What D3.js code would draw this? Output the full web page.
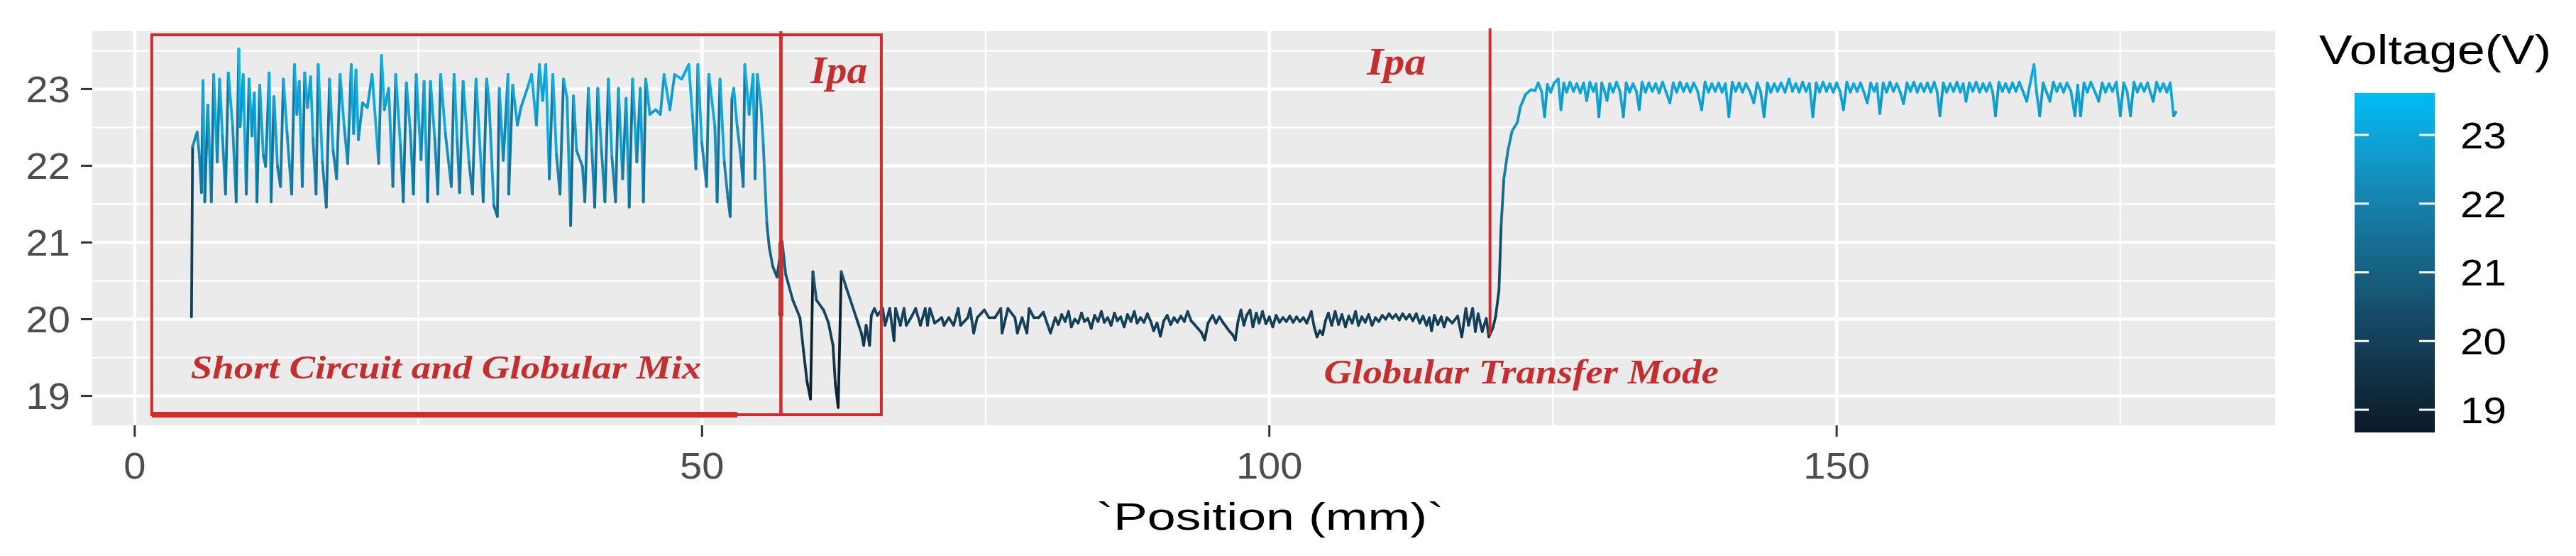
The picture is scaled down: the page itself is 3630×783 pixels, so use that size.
<!DOCTYPE html>
<html><head><meta charset="utf-8">
<script src="https://cdn.jsdelivr.net/npm/d3@7/dist/d3.min.js"></script>
<style>body{margin:0;background:#fff}svg{display:block}</style>
</head><body>
<svg id="chart" width="3630" height="783"></svg>
<script>
// ---------------- data ----------------
// Short circuit and globular mix zone
const pos1 = [
 5.0, 5.1, 5.5, 5.71, 5.88, 6.02, 6.17, 6.44, 6.75, 6.96,
 7.27, 7.48, 7.73, 8.0, 8.25, 8.63, 8.94, 9.17, 9.29, 9.56,
 9.83, 10.08, 10.33, 10.54, 10.77, 11.02, 11.33, 11.54, 11.85, 12.02,
 12.27, 12.58, 12.85, 13.10, 13.42, 13.83, 14.08, 14.29, 14.50, 14.77,
 14.98, 15.23, 15.50, 15.71, 15.98, 16.17, 16.54, 16.88, 17.17, 17.48,
 17.79, 18.10, 18.46, 18.77, 19.08, 19.29, 19.50, 19.71, 20.08, 20.50,
 20.92, 21.50, 21.75, 22.00, 22.38, 22.75, 23.00, 23.42, 23.67, 23.94,
 24.29, 24.56, 24.81, 25.23, 25.50, 25.81, 26.06, 26.44, 26.71, 26.96,
 27.38, 27.90, 28.15, 28.42, 28.63, 28.94, 29.46, 29.77, 30.08, 30.71,
 31.02, 31.23, 31.65, 31.96, 32.13, 32.48, 32.90, 32.96, 33.31, 33.73,
 34.04, 34.67, 34.98, 35.40, 35.67, 35.95, 36.23, 36.54, 36.85, 37.17,
 37.48, 37.79, 38.10, 38.42, 38.67, 38.94, 39.46, 39.67, 39.98, 40.29,
 40.54, 40.81, 41.13, 41.44, 41.75, 42.06, 42.38, 42.63, 43.00, 43.31,
 43.58, 43.88, 44.25, 44.56, 44.83, 45.04, 45.40, 45.92, 46.33, 46.65,
 47.17, 47.58, 48.21, 48.83, 49.15, 49.46, 49.63, 49.98, 50.40, 50.60,
 51.13, 51.33, 51.58, 51.96, 52.27, 52.48, 52.63, 52.79, 53.10, 53.42,
 53.63, 53.77, 54.15, 54.50, 54.67, 54.88, 55.19, 55.40, 55.71, 55.92,
 56.23, 56.60, 57.06, 57.38, 58.00, 58.63, 58.94, 59.25, 59.56, 59.77,
 60.08, 60.71, 61.13, 61.54, 61.75, 62.00, 62.27, 62.69, 63.21, 63.73,
 64.04, 64.25, 64.46, 64.77, 64.92, 65.19, 65.46
];
const volt1 = [
 20.03, 22.25, 22.44, 22.11, 21.65, 23.11, 21.53, 22.79, 21.53, 23.19,
 22.05, 23.13, 22.39, 21.63, 23.21, 22.51, 21.53, 23.52, 22.51, 23.19,
 21.63, 23.13, 22.39, 22.95, 21.53, 23.05, 22.14, 21.99, 23.21, 21.53,
 22.90, 21.99, 21.73, 23.13, 22.44, 21.63, 23.32, 22.67, 23.10, 21.73,
 23.21, 22.76, 23.16, 22.36, 21.63, 23.32, 22.05, 21.46, 23.13, 22.20,
 21.83, 23.19, 22.51, 22.03, 23.32, 22.42, 23.25, 22.34, 22.82, 22.76,
 23.19, 22.03, 23.44, 22.73, 23.01, 21.73, 23.19, 22.27, 21.53, 23.08,
 22.45, 21.63, 23.19, 22.08, 23.10, 21.53, 23.10, 22.36, 21.63, 23.19,
 22.42, 21.73, 23.19, 22.33, 21.65, 23.10, 22.05, 21.63, 23.13, 21.53,
 23.13, 22.82, 21.48, 21.34, 23.01, 22.07, 23.19, 21.63, 23.05, 22.53,
 22.76, 23.04, 23.19, 22.53, 23.32, 22.85, 23.32, 21.83, 23.19, 22.14,
 21.63, 23.13, 22.88, 21.22, 22.91, 22.20, 21.99, 21.53, 23.01, 22.22,
 21.46, 23.01, 22.22, 21.53, 23.13, 22.11, 21.53, 23.01, 21.83, 22.88,
 21.46, 23.13, 22.05, 23.01, 21.53, 23.13, 22.67, 22.73, 22.67, 23.19,
 22.73, 23.19, 23.13, 23.32, 22.67, 21.96, 23.32, 22.30, 21.73, 23.19,
 22.51, 21.53, 23.13, 22.05, 21.59, 21.34, 22.88, 23.01, 22.51, 22.11,
 21.73, 23.32, 22.67, 23.19, 21.83, 23.19, 22.79, 22.27, 21.25, 20.94,
 20.69, 20.55, 21.01, 20.58, 20.25, 20.02, 19.59, 19.19, 18.96, 20.62,
 20.25, 20.12, 19.96, 19.66, 19.16, 18.85, 20.62, 20.42, 20.19, 19.96,
 19.82, 19.66, 19.92, 19.66, 20.05, 20.14, 20.05
];
// Globular transfer zone
const pos2 = [
 65.92, 66.13, 66.54, 66.92, 67.06, 67.48, 67.80, 68.00, 68.42, 68.83,
 69.25, 69.67, 69.88, 70.08, 70.50, 71.13, 71.33, 71.75, 72.17, 72.58,
 72.79, 73.42, 73.63, 73.94, 74.25, 74.88, 75.29, 75.81, 76.33, 76.44,
 76.96, 77.58, 77.79, 78.21, 78.63, 78.83, 79.25, 79.67, 80.08, 80.71,
 81.13, 81.40, 81.70, 82.00, 82.30, 82.55, 82.85, 83.15, 83.45, 83.70,
 84.00, 84.30, 84.60, 84.90, 85.20, 85.45, 85.75, 86.05, 86.35, 86.60,
 86.90, 87.20, 87.50, 87.80, 88.10, 88.35, 88.65, 88.95, 89.25, 89.55,
 89.80, 90.10, 90.40, 90.70, 91.00, 91.30, 91.60, 91.90, 92.20, 92.50,
 92.80, 93.10, 93.40, 93.70, 94.00, 94.30, 94.60, 95.00, 95.30, 95.60,
 95.90, 96.20, 96.50, 96.75, 97.00, 97.25, 97.50, 97.75, 98.00, 98.30,
 98.55, 98.85, 99.10, 99.40, 99.70, 100.00, 100.30, 100.60, 100.90, 101.20,
 101.50, 101.80, 102.10, 102.40, 102.70, 103.00, 103.30, 103.70, 103.95, 104.20,
 104.45, 104.70, 104.95, 105.20, 105.50, 105.80, 106.10, 106.40, 106.70, 107.00,
 107.30, 107.60, 107.85, 108.15, 108.45, 108.75, 109.05, 109.35, 109.65, 109.95,
 110.25, 110.55, 110.85, 111.15, 111.45, 111.75, 112.05, 112.35, 112.65, 112.95,
 113.25, 113.55, 113.85, 114.10, 114.30, 114.55, 114.85, 115.15, 115.40, 115.65,
 116.13, 116.60, 116.96, 117.32, 117.56, 117.92, 118.16, 118.40, 118.76, 119.12,
 119.35, 119.71, 119.95
];
const volt2 = [
 20.14, 19.92, 20.14, 19.72, 20.14, 19.92, 20.14, 19.92, 20.02, 20.14,
 19.92, 20.14, 19.92, 20.14, 19.95, 20.02, 19.92, 20.02, 19.92, 20.14,
 19.92, 20.02, 20.14, 19.82, 20.02, 20.12, 20.02, 20.02, 20.14, 19.82,
 20.14, 20.02, 19.82, 20.02, 19.82, 20.14, 20.02, 20.02, 20.09, 19.82,
 20.02, 19.93, 20.06, 19.97, 20.10, 19.90, 20.00, 19.95, 20.08, 19.97,
 20.01, 19.88, 20.05, 19.97, 20.10, 19.96, 20.02, 19.92, 20.08, 19.98,
 20.03, 19.90, 20.06, 19.97, 20.10, 19.95, 20.02, 19.96, 20.07, 19.97,
 19.85, 19.95, 19.78, 19.98, 20.05, 19.93, 20.02, 19.96, 20.04, 19.97,
 20.10, 19.98, 19.93, 19.88, 19.83, 19.73, 19.95, 20.05, 19.95, 20.03,
 19.96, 19.90, 19.84, 19.80, 19.73, 19.98, 20.12, 19.92, 20.05, 20.12,
 19.90, 20.08, 19.95, 20.10, 19.94, 20.03, 19.90, 20.05, 19.96, 20.02,
 19.97, 20.04, 19.96, 20.03, 19.97, 20.02, 19.95, 20.10, 19.90, 19.77,
 19.85, 19.80, 19.98, 20.08, 19.92, 20.10, 19.93, 20.06, 19.90, 20.04,
 19.95, 20.10, 19.92, 20.03, 19.96, 20.06, 19.92, 20.02, 19.97, 20.05,
 20.00, 20.07, 20.01, 20.06, 19.99, 20.07, 20.00, 20.06, 19.98, 20.07,
 19.95, 20.04, 19.92, 20.02, 19.85, 20.05, 19.93, 20.03, 19.90, 20.02,
 19.95, 20.04, 19.77, 20.14, 19.92, 20.14, 19.84, 20.07, 19.84, 20.01,
 19.77, 19.89, 20.04
];
// Rise and the last zone
const pos3 = [
 120.24, 120.43, 120.67, 121.03, 121.39, 121.87, 122.11, 122.58, 123.06, 123.42,
 123.70, 124.00, 124.26, 124.50, 124.80, 125.10, 125.46, 125.70, 125.95, 126.20,
 126.50, 126.80, 127.10, 127.40, 127.70, 127.97, 128.25, 128.55, 128.80, 129.04,
 129.30, 129.55, 129.76, 130.00, 130.30, 130.60, 130.90, 131.20, 131.45, 131.75,
 132.05, 132.35, 132.60, 132.85, 133.15, 133.45, 133.75, 134.05, 134.35, 134.65,
 134.95, 135.30, 135.60, 135.90, 136.20, 136.50, 136.80, 137.10, 137.40, 137.75,
 138.10, 138.40, 138.70, 139.00, 139.30, 139.60, 139.90, 140.20, 140.50, 140.80,
 141.10, 141.40, 141.70, 142.00, 142.35, 142.70, 143.00, 143.30, 143.60, 143.90,
 144.20, 144.50, 144.80, 145.10, 145.45, 145.80, 146.10, 146.40, 146.70, 147.00,
 147.30, 147.60, 147.90, 148.20, 148.50, 148.80, 149.10, 149.40, 149.70, 150.00,
 150.30, 150.60, 150.90, 151.20, 151.50, 151.80, 152.10, 152.40, 152.70, 153.00,
 153.30, 153.55, 153.80, 154.10, 154.40, 154.70, 155.00, 155.30, 155.60, 155.90,
 156.20, 156.50, 156.80, 157.10, 157.40, 157.70, 158.00, 158.30, 158.60, 158.85,
 159.10, 159.40, 159.70, 160.00, 160.30, 160.60, 160.90, 161.15, 161.40, 161.70,
 162.00, 162.30, 162.60, 162.90, 163.20, 163.50, 163.75, 164.00, 164.30, 164.60,
 164.90, 165.20, 165.50, 165.80, 166.10, 166.45, 166.75, 167.05, 167.40, 167.60,
 167.90, 168.20, 168.50, 168.80, 169.10, 169.40, 169.70, 170.00, 170.30, 170.65,
 171.00, 171.25, 171.50, 171.80, 172.10, 172.40, 172.75, 173.10, 173.40, 173.70,
 174.00, 174.30, 174.65, 175.00, 175.30, 175.60, 175.90, 176.20, 176.50, 176.80,
 177.10, 177.40, 177.65, 177.90, 178.20, 178.50, 178.80, 179.10, 179.40, 179.70,
 179.90
];
const volt3 = [
 20.38, 21.22, 21.83, 22.20, 22.45, 22.57, 22.76, 22.93, 22.99, 22.98,
 23.08, 22.97, 22.64, 23.06, 22.96, 23.08, 23.13, 22.73, 23.08, 22.96,
 23.09, 22.97, 23.07, 22.95, 23.08, 22.85, 23.09, 22.97, 23.07, 22.64,
 23.08, 22.97, 22.85, 23.07, 22.96, 23.09, 22.97, 22.64, 23.08, 22.96,
 23.07, 22.97, 22.73, 23.09, 22.96, 23.08, 22.97, 23.07, 22.95, 23.09,
 22.97, 22.82, 23.08, 22.96, 23.09, 22.97, 23.07, 22.96, 23.08, 22.97,
 22.73, 23.09, 22.96, 23.07, 22.97, 23.08, 22.96, 23.07, 22.64, 23.09,
 22.97, 23.08, 22.96, 23.07, 22.97, 22.82, 23.08, 22.97, 22.64, 23.08,
 22.96, 23.07, 22.97, 23.08, 22.96, 23.13, 22.97, 23.07, 22.96, 23.09,
 22.97, 23.07, 22.64, 23.08, 22.96, 23.09, 22.97, 23.07, 22.96, 23.08,
 22.97, 22.73, 23.09, 22.96, 23.07, 22.97, 23.08, 22.96, 22.82, 23.08,
 22.97, 23.07, 22.68, 23.08, 22.96, 23.09, 22.97, 23.07, 22.96, 22.81,
 23.08, 22.97, 23.09, 22.96, 23.07, 22.97, 23.08, 22.96, 23.09, 22.97,
 22.65, 23.08, 22.96, 23.07, 22.97, 23.09, 22.96, 23.07, 22.84, 23.08,
 22.97, 23.09, 22.96, 23.07, 22.97, 23.08, 22.96, 22.65, 23.09, 22.97,
 23.07, 22.96, 23.08, 22.97, 23.09, 22.96, 22.84, 23.07, 23.32, 22.98,
 22.65, 23.08, 22.96, 22.84, 23.09, 22.97, 23.07, 22.96, 23.08, 22.97,
 22.65, 23.05, 22.65, 23.08, 22.96, 23.09, 22.97, 22.84, 23.08, 22.96,
 23.07, 22.97, 23.09, 22.65, 23.08, 22.97, 22.65, 23.09, 22.96, 23.07,
 22.97, 23.08, 22.96, 22.84, 23.09, 22.97, 23.07, 22.96, 23.08, 22.65,
 22.70
];

const xTicks = [0, 50, 100, 150];
const xMinorTicks = [25, 75, 125, 175];
const yTicks = [19, 20, 21, 22, 23];
const yMinorTicks = [19.5, 20.5, 21.5, 22.5, 23.5];
const legendTicks = [19, 20, 21, 22, 23];
const colourLimits = [18.67, 23.61];

// annotations, in data units (mm, V)
const boxes = [
  {x0: 1.5, x1: 56.95, y0: 18.755, y1: 23.707},
  {x0: 56.95, x1: 65.8, y0: 18.755, y1: 23.707}
];
const markerLines = [
  {x0: 56.95, x1: 56.95, y0: 20.04, y1: 23.753, w: 4},
  {x0: 56.95, x1: 56.95, y0: 20.04, y1: 21.0, w: 7},
  {x0: 119.45, x1: 119.45, y0: 19.79, y1: 23.79, w: 4},
  {x0: 1.5, x1: 53.1, y0: 18.755, y1: 18.755, w: 8}
];
const labels = [
  {text: "Short Circuit and Globular Mix", x0: 4.93, x1: 49.94, y: 19.227, size: 46},
  {text: "Globular Transfer Mode", x0: 104.8, x1: 139.6, y: 19.16, size: 48},
  {text: "Ipa", x0: 59.57, x1: 64.57, y: 23.077, size: 54},
  {text: "Ipa", x0: 108.6, x1: 113.8, y: 23.19, size: 54}
];

// ---------------- drawing ----------------
const position = pos1.concat(pos2, pos3);
const voltage = volt1.concat(volt2, volt3);
const data = position.map((p, i) => ({p, v: voltage[i]}));

const panel = {left: 130, right: 3206, top: 44, bottom: 599};
const svg = d3.select('#chart');
const sans = '"Liberation Sans", Arial, sans-serif';
const serif = '"Liberation Serif", "Times New Roman", serif';

function expand(ext, k = 0.05) { const r = ext[1] - ext[0]; return [ext[0] - k * r, ext[1] + k * r]; }
function stretch(sel, k) {
  sel.each(function () {
    const L = this.getComputedTextLength();
    d3.select(this).attr('textLength', L * k).attr('lengthAdjust', 'spacingAndGlyphs');
  });
}

const x = d3.scaleLinear().domain(expand(d3.extent(position))).range([panel.left, panel.right]);
const y = d3.scaleLinear().domain(expand(d3.extent(voltage))).range([panel.bottom, panel.top]);
const colour = d3.scaleLinear().domain(colourLimits).range(['#0B1A28', '#00BBF5']).interpolate(d3.interpolateLab).clamp(true);

// panel background
svg.append('rect').attr('x', panel.left).attr('y', panel.top)
  .attr('width', panel.right - panel.left).attr('height', panel.bottom - panel.top).attr('fill', '#EBEBEB');

const grid = svg.append('g');
grid.selectAll('.hmin').data(yMinorTicks).join('line')
  .attr('x1', panel.left).attr('x2', panel.right).attr('y1', d => y(d)).attr('y2', d => y(d))
  .attr('stroke', '#fff').attr('stroke-width', 2.5);
grid.selectAll('.vmin').data(xMinorTicks).join('line')
  .attr('y1', panel.top).attr('y2', panel.bottom).attr('x1', d => x(d)).attr('x2', d => x(d))
  .attr('stroke', '#fff').attr('stroke-width', 2.5);
grid.selectAll('.hmaj').data(yTicks).join('line')
  .attr('x1', panel.left).attr('x2', panel.right).attr('y1', d => y(d)).attr('y2', d => y(d))
  .attr('stroke', '#fff').attr('stroke-width', 4.5);
grid.selectAll('.vmaj').data(xTicks).join('line')
  .attr('y1', panel.top).attr('y2', panel.bottom).attr('x1', d => x(d)).attr('x2', d => x(d))
  .attr('stroke', '#fff').attr('stroke-width', 4.5);

// the voltage trace, each segment coloured by its starting value
const segs = d3.pairs(data);
svg.append('g').selectAll('line').data(segs).join('line')
  .attr('x1', d => x(d[0].p)).attr('y1', d => y(d[0].v))
  .attr('x2', d => x(d[1].p)).attr('y2', d => y(d[1].v))
  .attr('stroke', d => colour(d[0].v)).attr('stroke-width', 3.8).attr('stroke-linecap', 'round');

// annotations
const red = '#CF2C2C';
const textRed = '#C42E2E';
const ann = svg.append('g');
ann.selectAll('rect').data(boxes).join('rect')
  .attr('x', d => x(d.x0)).attr('y', d => y(d.y1))
  .attr('width', d => x(d.x1) - x(d.x0)).attr('height', d => y(d.y0) - y(d.y1))
  .attr('fill', 'none').attr('stroke', red).attr('stroke-width', 4);
ann.selectAll('line').data(markerLines).join('line')
  .attr('x1', d => x(d.x0)).attr('x2', d => x(d.x1)).attr('y1', d => y(d.y1)).attr('y2', d => y(d.y0))
  .attr('stroke', red).attr('stroke-width', d => d.w);
ann.selectAll('text').data(labels).join('text')
  .attr('x', d => x(d.x0)).attr('y', d => y(d.y))
  .attr('font-family', serif).attr('font-style', 'italic').attr('font-weight', 'bold')
  .attr('font-size', d => d.size).attr('fill', textRed)
  .attr('textLength', d => x(d.x1) - x(d.x0)).attr('lengthAdjust', 'spacingAndGlyphs')
  .text(d => d.text);

// axes
const tickCol = '#333333', labCol = '#4D4D4D';
const ax = svg.append('g');
ax.selectAll('.yt').data(yTicks).join('line')
  .attr('x1', panel.left - 16).attr('x2', panel.left).attr('y1', d => y(d)).attr('y2', d => y(d))
  .attr('stroke', tickCol).attr('stroke-width', 3);
ax.selectAll('.yl').data(yTicks).join('text')
  .attr('x', panel.left - 31).attr('y', d => y(d)).attr('dy', '0.36em')
  .attr('text-anchor', 'end').attr('font-family', sans).attr('font-size', 51).attr('fill', labCol)
  .text(d => d).call(stretch, 1.1);
ax.selectAll('.xt').data(xTicks).join('line')
  .attr('x1', d => x(d)).attr('x2', d => x(d)).attr('y1', panel.bottom).attr('y2', panel.bottom + 16)
  .attr('stroke', tickCol).attr('stroke-width', 3);
ax.selectAll('.xl').data(xTicks).join('text')
  .attr('x', d => x(d)).attr('y', 674)
  .attr('text-anchor', 'middle').attr('font-family', sans).attr('font-size', 51).attr('fill', labCol)
  .text(d => d).call(stretch, 1.1);
ax.append('text').attr('x', 1790).attr('y', 746).attr('text-anchor', 'middle')
  .attr('font-family', sans).attr('font-size', 54).attr('fill', '#000')
  .text('`Position (mm)`').attr('textLength', 490).attr('lengthAdjust', 'spacingAndGlyphs');

// legend (colour bar)
const bar = {x: 3318, w: 113, top: 131, bottom: 609};
const ly = d3.scaleLinear().domain(colourLimits).range([bar.bottom, bar.top]);
const defs = svg.append('defs');
const grad = defs.append('linearGradient').attr('id', 'cb').attr('x1', 0).attr('y1', 1).attr('x2', 0).attr('y2', 0);
grad.selectAll('stop').data(d3.range(0, 1.0001, 0.02)).join('stop')
  .attr('offset', d => d).attr('stop-color', d => colour(colourLimits[0] + d * (colourLimits[1] - colourLimits[0])));
const lg = svg.append('g');
lg.append('text').attr('x', 3268).attr('y', 90).attr('font-family', sans).attr('font-size', 58).attr('fill', '#000')
  .text('Voltage(V)').attr('textLength', 327).attr('lengthAdjust', 'spacingAndGlyphs');
lg.append('rect').attr('x', bar.x).attr('y', bar.top).attr('width', bar.w).attr('height', bar.bottom - bar.top)
  .attr('fill', 'url(#cb)');
lg.selectAll('.lt1').data(legendTicks).join('line')
  .attr('x1', bar.x).attr('x2', bar.x + 20).attr('y1', d => ly(d)).attr('y2', d => ly(d))
  .attr('stroke', '#fff').attr('stroke-width', 3);
lg.selectAll('.lt2').data(legendTicks).join('line')
  .attr('x1', bar.x + bar.w - 22).attr('x2', bar.x + bar.w).attr('y1', d => ly(d)).attr('y2', d => ly(d))
  .attr('stroke', '#fff').attr('stroke-width', 3);
lg.selectAll('.ll').data(legendTicks).join('text')
  .attr('x', 3467).attr('y', d => ly(d)).attr('dy', '0.36em')
  .attr('font-family', sans).attr('font-size', 52).attr('fill', '#000')
  .text(d => d).call(stretch, 1.12);
</script>
</body></html>
